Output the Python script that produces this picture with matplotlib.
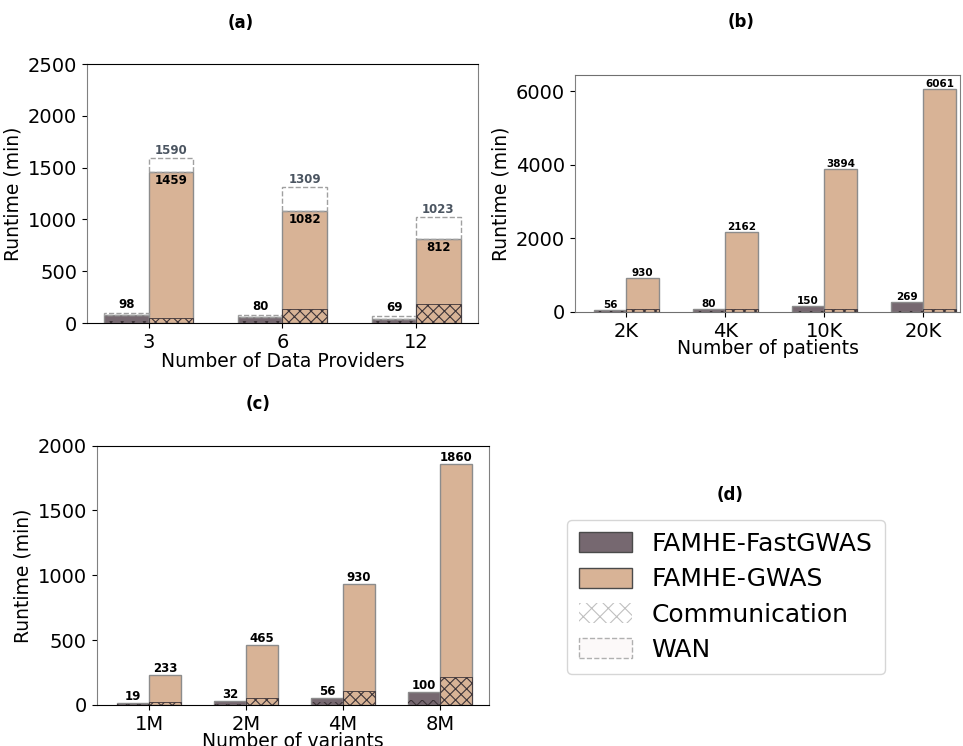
import numpy as np
import matplotlib.pyplot as plt
from matplotlib.patches import Patch

# colours
FAST_C = '#766870'
GWAS_C = '#d8b396'
EDGE_C = '#8c8c8c'
HATCH_C = '#3d3438'
WAN_C = '#a0a0a0'

# (a) data providers
prov_labels = ['3', '6', '12']
prov_fast = [76, 55, 38]
prov_fast_comm = [22, 20, 15]
prov_fast_wan = [98, 80, 69]
prov_gwas = [1459, 1082, 812]
prov_gwas_comm = [52, 132, 180]
prov_gwas_wan = [1590, 1309, 1023]

# (b) patients
pat_labels = ['2K', '4K', '10K', '20K']
pat_fast = [56, 80, 150, 269]
pat_fast_comm = [20, 20, 20, 20]
pat_gwas = [930, 2162, 3894, 6061]
pat_gwas_comm = [90, 90, 90, 90]

# (c) variants
var_labels = ['1M', '2M', '4M', '8M']
var_fast = [19, 32, 56, 100]
var_fast_comm = [5, 10, 20, 38]
var_gwas = [233, 465, 930, 1860]
var_gwas_comm = [20, 51, 108, 218]

plt.rcParams['hatch.linewidth'] = 0.8
plt.rcParams['hatch.color'] = HATCH_C

fig = plt.figure(figsize=(9.63, 7.46), dpi=100)

W = 0.33
TICK_FS = 14
LAB_FS = 13.5


def draw_panel(ax, labels, fast, fast_comm, gwas, gwas_comm, lab_size,
               fast_wan=None, gwas_wan=None):
    x = np.arange(len(labels))
    ax.bar(x, fast, width=-W, align='edge', color=FAST_C, edgecolor=EDGE_C, linewidth=1, zorder=2)
    ax.bar(x, fast_comm, width=-W, align='edge', color='none', edgecolor=HATCH_C,
           hatch='xxx', linewidth=0, zorder=3)
    ax.bar(x, gwas, width=W, align='edge', color=GWAS_C, edgecolor=EDGE_C, linewidth=1, zorder=2)
    ax.bar(x, gwas_comm, width=W, align='edge', color='none', edgecolor=HATCH_C,
           hatch='xxx', linewidth=0.6, zorder=3)
    for i in range(len(labels)):
        if fast_wan is None:
            ax.text(x[i] - W / 2, fast[i], str(fast[i]), ha='center', va='bottom',
                    fontsize=lab_size, fontweight='bold')
            ax.text(x[i] + W / 2, gwas[i], str(gwas[i]), ha='center', va='bottom',
                    fontsize=lab_size, fontweight='bold')
        else:
            ax.bar(x[i], fast_wan[i] - fast[i], bottom=fast[i], width=-W, align='edge',
                   fill=False, edgecolor=WAN_C, linestyle='--', linewidth=1, zorder=2)
            ax.bar(x[i], gwas_wan[i] - gwas[i], bottom=gwas[i], width=W, align='edge',
                   fill=False, edgecolor=WAN_C, linestyle='--', linewidth=1, zorder=2)
            ax.text(x[i] - W / 2, fast_wan[i] + 15, str(fast_wan[i]), ha='center', va='bottom',
                    fontsize=lab_size, fontweight='bold')
            ax.text(x[i] + W / 2, gwas_wan[i] + 15, str(gwas_wan[i]), ha='center', va='bottom',
                    fontsize=lab_size, fontweight='bold', color='#4b5561')
            ax.text(x[i] + W / 2, gwas[i] - 20, str(gwas[i]), ha='center', va='top',
                    fontsize=lab_size, fontweight='bold')
    ax.set_xticks(x)
    ax.set_xticklabels(labels)
    ax.tick_params(labelsize=TICK_FS)
    ax.set_ylabel('Runtime (min)', fontsize=LAB_FS)
    for s in ['left', 'right']:
        ax.spines[s].set_color('#808080')


# panel (a)
ax1 = fig.add_axes([0.0903, 0.567, 0.406, 0.347])
draw_panel(ax1, prov_labels, prov_fast, prov_fast_comm, prov_gwas, prov_gwas_comm, 8.5,
           prov_fast_wan, prov_gwas_wan)
ax1.set_xlim(-0.46, 2.46)
ax1.set_ylim(0, 2500)
ax1.set_xlabel('Number of Data Providers', fontsize=LAB_FS, labelpad=0)

# panel (b)
ax2 = fig.add_axes([0.597, 0.582, 0.400, 0.317])
draw_panel(ax2, pat_labels, pat_fast, pat_fast_comm, pat_gwas, pat_gwas_comm, 7.5)
ax2.set_xlim(-0.52, 3.37)
ax2.set_ylim(0, 6430)
ax2.set_yticks([0, 2000, 4000, 6000])
ax2.set_xlabel('Number of patients', fontsize=LAB_FS, labelpad=-1)
for s in ['top', 'bottom']:
    ax2.spines[s].set_color('#707070')

# panel (c)
ax3 = fig.add_axes([0.1004, 0.055, 0.407, 0.3476])
draw_panel(ax3, var_labels, var_fast, var_fast_comm, var_gwas, var_gwas_comm, 8.5)
ax3.set_xlim(-0.54, 3.5)
ax3.set_ylim(0, 2000)
ax3.set_xlabel('Number of variants', fontsize=LAB_FS, labelpad=-1)

# panel titles
fig.text(241 / 963, 1 - 23 / 746, '(a)', ha='center', va='center', fontsize=12, fontweight='bold')
fig.text(741 / 963, 1 - 22 / 746, '(b)', ha='center', va='center', fontsize=12, fontweight='bold')
fig.text(258 / 963, 1 - 404 / 746, '(c)', ha='center', va='center', fontsize=12, fontweight='bold')
fig.text(730 / 963, 1 - 495 / 746, '(d)', ha='center', va='center', fontsize=12, fontweight='bold')

# legend (d)
handles = [
    Patch(facecolor=FAST_C, edgecolor='#4a4a4a', label='FAMHE-FastGWAS'),
    Patch(facecolor=GWAS_C, edgecolor='#4a4a4a', label='FAMHE-GWAS'),
    Patch(facecolor='white', edgecolor='#c0c0c0', hatch='xx', linewidth=0, label='Communication'),
    Patch(facecolor='#fcf9f9', edgecolor='#b0b0b0', linestyle='--', label='WAN'),
]
fig.legend(handles=handles, loc='upper left', bbox_to_anchor=(554 / 963, 1 - 507 / 746),
           fontsize=18, frameon=True, handlelength=2.1, handleheight=0.85, borderpad=0.5,
           labelspacing=0.45, handletextpad=0.8)

fig.savefig('out.png', dpi=100)
